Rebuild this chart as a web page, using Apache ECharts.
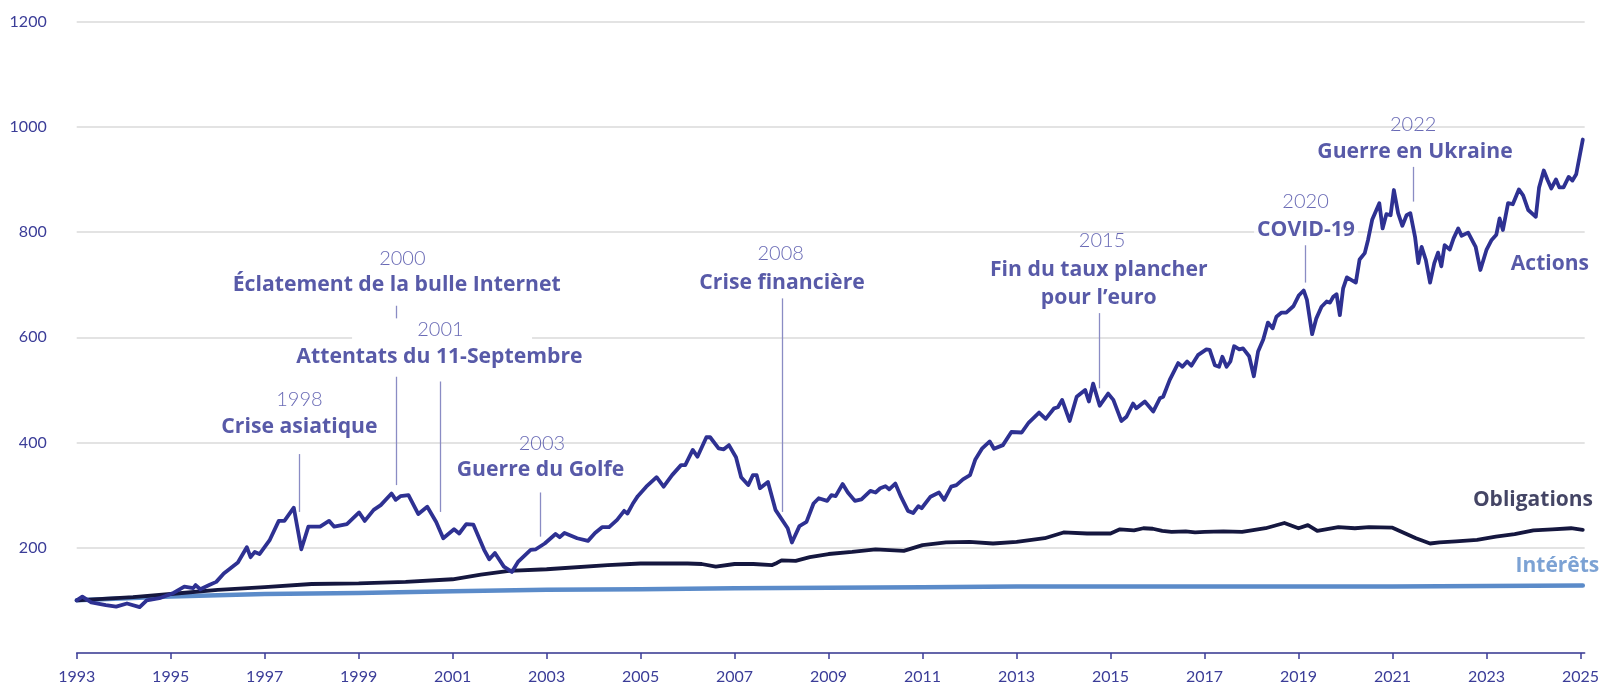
<!DOCTYPE html>
<html><head><meta charset="utf-8">
<script src="https://cdn.jsdelivr.net/npm/echarts@6/dist/echarts.min.js"></script>
<style>html,body{margin:0;padding:0;background:#fff}#c{width:1602px;height:686px}</style>
</head><body><div id="c"></div>
<script>
// ---------- DATA ----------
const actionsDates = [1993.00,1993.12,1993.31,1993.62,1993.84,1994.07,1994.34,1994.49,1994.76,1995.06,1995.29,1995.48,1995.53,1995.63,1995.82,1995.97,1996.13,1996.43,1996.62,1996.70,1996.79,1996.89,1997.11,1997.30,1997.42,1997.62,1997.78,1997.93,1998.18,1998.37,1998.48,1998.75,1999.01,1999.13,1999.32,1999.47,1999.70,1999.79,1999.89,2000.06,2000.27,2000.46,2000.65,2000.80,2001.03,2001.14,2001.29,2001.44,2001.67,2001.78,2001.90,2002.09,2002.26,2002.39,2002.66,2002.77,2002.96,2003.19,2003.28,2003.38,2003.65,2003.88,2004.03,2004.18,2004.33,2004.50,2004.65,2004.72,2004.83,2004.94,2005.12,2005.34,2005.49,2005.67,2005.86,2005.95,2006.11,2006.21,2006.40,2006.48,2006.66,2006.77,2006.88,2007.03,2007.14,2007.29,2007.39,2007.47,2007.54,2007.71,2007.87,2008.13,2008.22,2008.38,2008.53,2008.68,2008.79,2008.97,2009.06,2009.15,2009.30,2009.41,2009.56,2009.70,2009.89,2010.00,2010.10,2010.21,2010.29,2010.42,2010.54,2010.69,2010.80,2010.91,2010.98,2011.17,2011.35,2011.46,2011.61,2011.72,2011.86,2012.01,2012.12,2012.27,2012.43,2012.52,2012.71,2012.89,2013.11,2013.26,2013.48,2013.62,2013.80,2013.88,2013.97,2014.13,2014.28,2014.46,2014.54,2014.63,2014.77,2014.95,2015.06,2015.23,2015.34,2015.48,2015.55,2015.73,2015.91,2016.05,2016.12,2016.26,2016.44,2016.53,2016.63,2016.72,2016.86,2017.04,2017.11,2017.22,2017.31,2017.38,2017.47,2017.55,2017.63,2017.74,2017.82,2017.95,2018.05,2018.14,2018.25,2018.35,2018.45,2018.53,2018.64,2018.74,2018.89,2019.01,2019.11,2019.18,2019.29,2019.38,2019.49,2019.60,2019.67,2019.74,2019.81,2019.88,2019.95,2020.03,2020.22,2020.30,2020.41,2020.48,2020.57,2020.72,2020.79,2020.87,2020.96,2021.03,2021.12,2021.21,2021.30,2021.38,2021.48,2021.55,2021.62,2021.71,2021.80,2021.89,2021.97,2022.04,2022.11,2022.22,2022.30,2022.40,2022.47,2022.61,2022.77,2022.87,2023.00,2023.11,2023.21,2023.28,2023.35,2023.46,2023.56,2023.69,2023.78,2023.89,2024.05,2024.12,2024.22,2024.30,2024.38,2024.48,2024.55,2024.64,2024.75,2024.83,2024.91,2025.05];
const actionsValues = [100,107,96,91,88,94,87,100,104,114,126,123,129,121,129,135,151,172,201,182,192,188,215,251,251,276,197,240,240,251,240,245,267,251,272,281,303,291,298,300,264,278,249,218,235,227,245,244,196,178,190,164,154,173,196,197,208,226,220,228,218,213,228,239,239,253,270,265,283,298,316,334,316,338,357,357,386,373,410,410,389,387,395,372,334,319,338,338,313,325,272,237,210,241,249,284,294,289,300,298,321,305,289,292,308,305,313,317,311,322,297,270,266,279,275,297,305,291,316,319,330,338,367,389,402,388,395,420,419,438,457,445,465,467,481,441,487,500,478,512,470,493,481,441,449,474,465,478,459,484,487,519,551,544,554,546,566,577,576,547,544,563,544,554,583,577,579,564,526,573,596,628,617,639,647,647,659,680,689,671,606,636,658,668,666,677,682,642,693,714,704,748,760,785,824,855,807,834,832,880,836,812,832,836,791,741,772,747,704,741,761,735,775,767,788,807,793,799,772,728,766,785,795,826,804,855,853,881,870,842,829,885,917,899,883,900,885,885,905,898,910,976];

const bondsDates = [1993.0,1994.2,1995.0,1996.0,1997.0,1998.0,1999.0,2000.0,2001.0,2001.6,2002.2,2003.0,2004.3,2005.0,2006.0,2006.3,2006.6,2007.0,2007.4,2007.8,2007.9,2008.0,2008.3,2008.6,2009.0,2009.5,2010.0,2010.6,2011.0,2011.5,2012.0,2012.5,2013.0,2013.6,2014.0,2014.5,2015.0,2015.2,2015.5,2015.7,2015.9,2016.1,2016.3,2016.6,2016.8,2017.0,2017.4,2017.8,2018.3,2018.7,2019.0,2019.2,2019.4,2019.85,2020.2,2020.5,2021.0,2021.5,2021.8,2022.0,2022.35,2022.8,2023.2,2023.6,2024.0,2024.4,2024.8,2025.05];
const bondsValues = [100,106,112,120,125,131,132,135,140,149,156,159,167,170,170,169,164,169,169,167,171,176,175,182,188,192,197,194,205,210,211,208,211,218,229,227,227,235,233,237,236,232,230,231,229,230,231,230,237,247,237,243,232,239,237,239,238,218,208,210,212,215,221,226,233,235,237,234];

const interestDates = [1993.0,1995.0,1997.0,1999.0,2001.0,2003.0,2005.0,2007.0,2009.0,2011.0,2013.0,2015.0,2017.0,2019.0,2021.0,2023.0,2025.05];
const interestValues = [100,107,112,114,117,120,121,123,124,125,126,126,126,126,126,127,128];

const seriesNames = ['Actions','Obligations','Intérêts'];
const xTickYears = [1993,1995,1997,1999,2001,2003,2005,2007,2009,2011,2013,2015,2017,2019,2021,2023,2025];
const yTickValues = [0,200,400,600,800,1000,1200];

const eventYears  = ['1998','2000','2001','2003','2008','2015','2020','2022'];
const eventTitles = ['Crise asiatique','Éclatement de la bulle Internet','Attentats du 11-Septembre','Guerre du Golfe','Crise financière','Fin du taux plancher\npour l’euro','COVID-19','Guerre en Ukraine'];

// ---------- LAYOUT (annotation placement in data coordinates) ----------
const yearLabelPos  = [[1997.74,481],[1999.93,750],[2000.74,614],[2002.90,398],[2007.98,760],[2014.82,784],[2019.15,858],[2021.44,1005]];
const titleLabelPos = [[1997.74,429],[1999.81,699],[2000.72,562],[2002.87,348],[2008.01,704],[2014.75,701],[2019.16,805],[2021.48,953]];
const connectors = [
  [1997.74,378,268],[1999.81,660,636],[1999.81,525,319],[2000.74,516,268],
  [2002.87,305,221],[2008.02,674,268],[2014.77,646,503],[2019.15,775,704],[2021.44,924,858]
];
const whiteBox = [[1998.86,524],[2002.69,637]];
const seriesLabelPos = [[2024.35,739],[2023.99,291],[2024.51,166]];

const C_ACT = '#2e3192', C_OBL = '#15173f', C_INT = '#5b8bc9';
const C_AXIS = '#3b3d98', C_YEAR = '#4345a3', C_CONN = '#8a8cc4';
const FONT = 'Lato';
const BFONT = 'Open Sans';

const zip = (a,b) => a.map((v,i)=>[v,b[i]]);

const labelData = [];
eventYears.forEach((y,i)=>{
  labelData.push({value:yearLabelPos[i], label:{show:true, position:'inside', formatter:y,
    fontFamily:FONT, fontWeight:300, fontSize:20, color:C_YEAR}});
  const bg = (eventYears[i]==='2020') ? '#ffffff' : 'transparent';
  labelData.push({value:titleLabelPos[i], label:{show:true, position:'inside', formatter:eventTitles[i],
    fontFamily:BFONT, fontWeight:'bold', fontSize:21.2, lineHeight:28, color:C_ACT, align:'center',
    backgroundColor:bg, padding:[0,3]}});
});
const sColors = [C_ACT, C_OBL, C_INT];
seriesNames.forEach((n,i)=>{
  labelData.push({value:seriesLabelPos[i], label:{show:true, position:'inside', formatter:n,
    fontFamily:BFONT, fontWeight:'bold', fontSize:21, color:sColors[i]}});
});

const chart = echarts.init(document.getElementById('c'), null, {renderer:'canvas'});
chart.setOption({
  animation:false,
  backgroundColor:'#ffffff',
  grid:{left:76.7, right:17, top:21.7, bottom:33.1, containLabel:false},
  xAxis:{type:'value', min:1993, max:2025.09,
    axisLine:{show:true, lineStyle:{color:C_AXIS, width:1.5}},
    axisTick:{show:true, length:6, customValues:xTickYears, lineStyle:{color:C_AXIS, width:1.5}},
    axisLabel:{customValues:xTickYears, color:C_AXIS, fontFamily:FONT, fontSize:16, margin:16, formatter:v=>String(v)},
    splitLine:{show:false}},
  yAxis:{type:'value', min:yTickValues[0], max:yTickValues[yTickValues.length-1], interval:200,
    axisLine:{show:false}, axisTick:{show:false},
    axisLabel:{color:C_AXIS, fontFamily:FONT, fontSize:16, margin:30, formatter:v=> v===0 ? '' : String(v)},
    splitLine:{show:true, lineStyle:{color:'#dadada', width:1.5}}},
  series:[
    {type:'scatter', name:'annotations', z:1, symbolSize:0, silent:true, clip:false, data:[],
      markArea:{silent:true, itemStyle:{color:'#ffffff', opacity:1}, label:{show:false},
        data:[[{coord:whiteBox[0]},{coord:whiteBox[1]}]]},
      markLine:{silent:true, symbol:['none','none'], label:{show:false},
        lineStyle:{color:C_CONN, width:1.3, type:'solid'},
        data:connectors.map(c=>[{coord:[c[0],c[1]]},{coord:[c[0],c[2]]}])}},
    {type:'line', name:seriesNames[2], data:zip(interestDates,interestValues), showSymbol:false, z:3,
      lineStyle:{color:C_INT, width:4.5, cap:'round', join:'round'}},
    {type:'line', name:seriesNames[1], data:zip(bondsDates,bondsValues), showSymbol:false, z:4,
      lineStyle:{color:C_OBL, width:3.8, cap:'round', join:'round'}},
    {type:'line', name:seriesNames[0], data:zip(actionsDates,actionsValues), showSymbol:false, z:5,
      lineStyle:{color:C_ACT, width:3.8, cap:'round', join:'round'}},
    {type:'scatter', name:'labels', z:6, symbolSize:0, silent:true, clip:false,
      itemStyle:{color:'transparent'}, data:labelData}
  ]
});
</script></body></html>
